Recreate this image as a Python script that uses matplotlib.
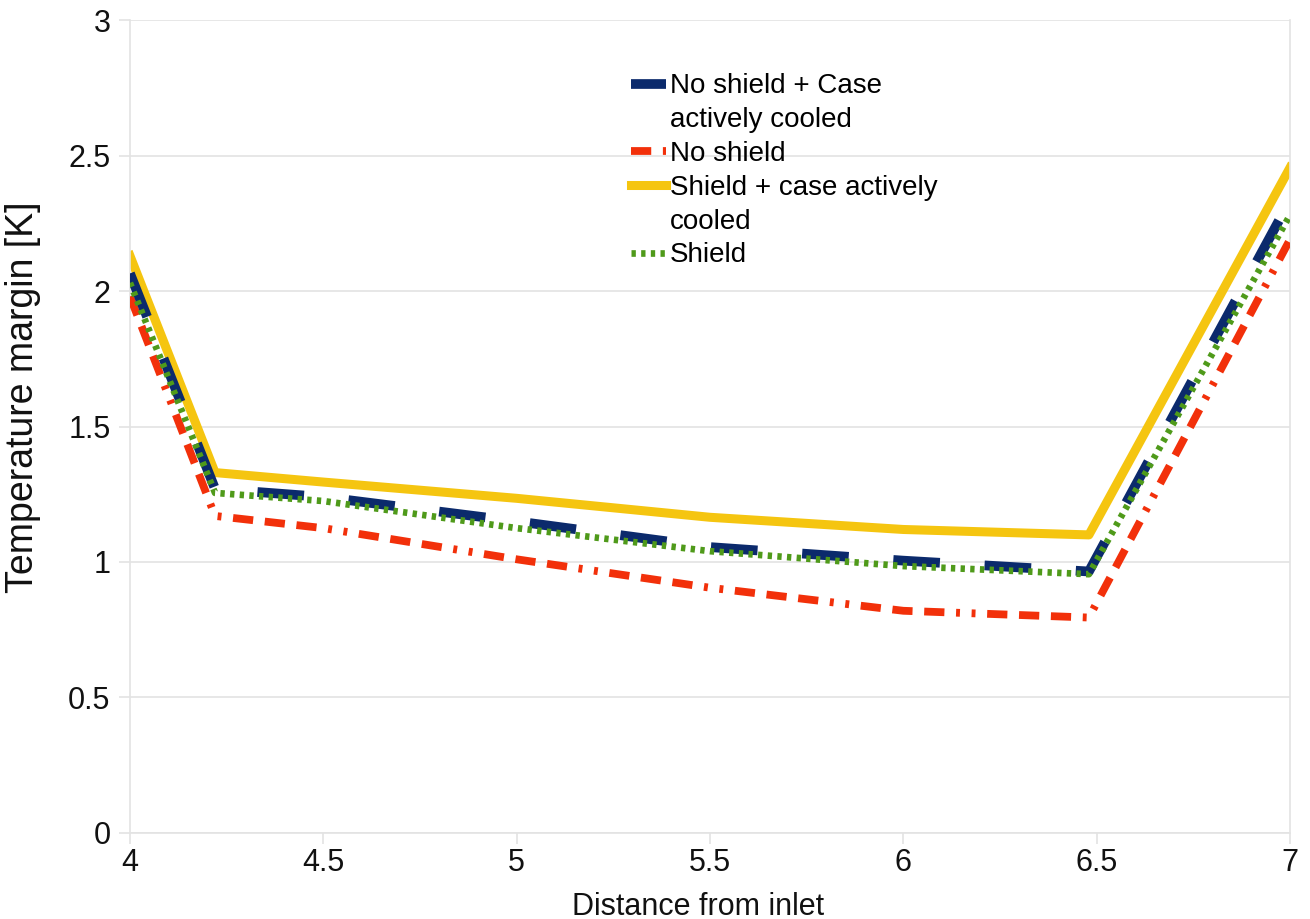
import matplotlib
matplotlib.use("Agg")
import matplotlib.pyplot as plt
from matplotlib.lines import Line2D

plt.rcParams['font.family'] = ['Liberation Sans', 'DejaVu Sans']

# Data
distance = [4.0, 4.22, 4.5, 5.0, 5.5, 6.0, 6.48, 7.0]
no_shield_case_cooled = [2.065, 1.27, 1.24, 1.15, 1.055, 1.005, 0.965, 2.335]
no_shield = [1.98, 1.17, 1.125, 1.01, 0.905, 0.82, 0.795, 2.19]
shield_case_cooled = [2.13, 1.33, 1.295, 1.235, 1.165, 1.12, 1.10, 2.455]
shield = [2.03, 1.255, 1.225, 1.125, 1.04, 0.985, 0.955, 2.28]

labels = ["No shield + Case\nactively cooled", "No shield",
          "Shield + case actively\ncooled", "Shield"]
xticks = [4, 4.5, 5, 5.5, 6, 6.5, 7]
yticks = [0, 0.5, 1, 1.5, 2, 2.5, 3]

fig = plt.figure(figsize=(13.10, 9.19), dpi=100)
ax = fig.add_axes([0.0992, 0.0936, 0.8855, 0.8846])

grid_c = '#e3e3e3'
text_c = '#111111'
l_blue, = ax.plot(distance, no_shield_case_cooled, color='#0b2a6c', lw=7.0,
                  linestyle=(0, (4.8, 4.6)), dash_capstyle='butt', zorder=4)
l_red, = ax.plot(distance, no_shield, color='#f2300a', lw=5.6,
                 linestyle=(0, (2.6, 1.5, 2.6, 1.5, 2.6, 1.5, 0.5, 1.5, 0.5, 1.5)),
                 solid_joinstyle='round', zorder=3)
l_yel, = ax.plot(distance, shield_case_cooled, color='#f5c510', lw=6.5,
                 solid_joinstyle='round', zorder=2)
l_grn, = ax.plot(distance, shield, color='#4f9a1a', lw=4.8,
                 linestyle=(0, (0.65, 0.8)), zorder=5)

ax.set_xlim(4, 7)
ax.set_ylim(0, 3)
ax.set_xticks(xticks)
ax.set_xticklabels(['4', '4.5', '5', '5.5', '6', '6.5', '7'])
ax.set_yticks(yticks)
ax.set_yticklabels(['0', '0.5', '1', '1.5', '2', '2.5', '3'])
ax.grid(axis='y', color=grid_c, lw=1.2)
ax.set_axisbelow(True)
ax.spines['top'].set_visible(False)
for s in ['left', 'right', 'bottom']:
    ax.spines[s].set_color(grid_c)
    ax.spines[s].set_linewidth(1.2)
ax.tick_params(axis='both', colors=grid_c, length=8, width=1.2, labelsize=22,
               labelcolor=text_c, pad=3)
ax.tick_params(axis='y', pad=6)

ax.set_xlabel("Distance from inlet", fontsize=22, color=text_c)
ax.xaxis.set_label_coords(0.49, -0.072)
ax.set_ylabel("Temperature margin [K]", fontsize=27, color=text_c)
ax.yaxis.set_label_coords(-0.077, 0.536)

# Legend: multi-line labels split so that each handle sits on its first line
blank = Line2D([], [], color='none')
handles, texts = [], []
for h, lab in zip([l_blue, l_red, l_yel, l_grn], labels):
    parts = lab.split("\n")
    handles.append(h)
    texts.append(parts[0])
    for p in parts[1:]:
        handles.append(blank)
        texts.append(p)
leg = ax.legend(handles=handles, labels=texts, loc='upper left',
                bbox_to_anchor=(0.4225, 0.948), frameon=False, fontsize=20,
                handlelength=1.25, handletextpad=0.15, labelspacing=0.28,
                borderaxespad=0)

fig.savefig("out.png", dpi=100)
